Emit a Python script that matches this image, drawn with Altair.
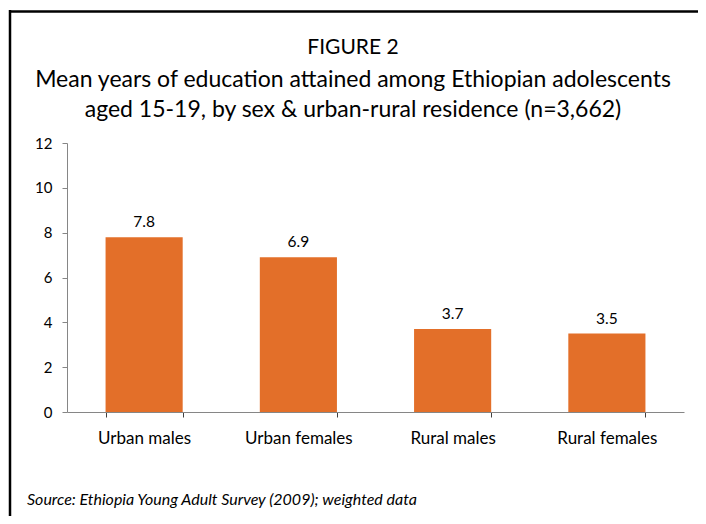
import altair as alt
import pandas as pd

categories = ["Urban males", "Urban females", "Rural males", "Rural females"]
values = [7.8, 6.9, 3.7, 3.5]
value_labels = ["7.8", "6.9", "3.7", "3.5"]
y_ticks = [0, 2, 4, 6, 8, 10, 12]
title_lines = [
    "FIGURE 2",
    "Mean years of education attained among Ethiopian adolescents",
    "aged 15-19, by sex & urban-rural residence (n=3,662)",
]
source_text = "Source:  Ethiopia Young Adult Survey (2009); weighted data"

FONT = "Lato"
BAR = "#E36F29"

df = pd.DataFrame({"cat": categories, "val": values, "lab": value_labels})

x_enc = alt.X(
    "cat:N",
    sort=categories,
    title=None,
    scale=alt.Scale(paddingInner=0.5, paddingOuter=0.25),
    axis=alt.Axis(
        labelAngle=0,
        tickBand="extent",
        domainColor="#868686",
        tickColor="#404040",
        tickSize=5,
        labelPadding=13,
        labelFontSize=17,
        labelColor="#000000",
        labelFont=FONT,
    ),
)
y_enc = alt.Y(
    "val:Q",
    title=None,
    scale=alt.Scale(domain=[0, 12], nice=False),
    axis=alt.Axis(
        values=y_ticks,
        grid=False,
        domainColor="#868686",
        tickColor="#868686",
        tickSize=5,
        labelPadding=10,
        labelFontSize=15,
        labelColor="#000000",
        labelFont=FONT,
    ),
)

bars = alt.Chart(df).mark_bar(color=BAR).encode(x=x_enc, y=y_enc)
texts = alt.Chart(df).mark_text(
    baseline="bottom", dy=-7, fontSize=15.5, font=FONT, color="#000000"
).encode(x=alt.X("cat:N", sort=categories), y="val:Q", text="lab:N")

title_offsets = [-89, -56, -26]
title_sizes = [21, 23, 23]
title_layers = [
    alt.Chart(pd.DataFrame({"t": [line]})).mark_text(
        align="center", baseline="alphabetic", fontSize=size, font=FONT, color="#000000"
    ).encode(x=alt.value(286), y=alt.value(off), text="t:N")
    for line, off, size in zip(title_lines, title_offsets, title_sizes)
]

src = alt.Chart(pd.DataFrame({"t": [source_text]})).mark_text(
    align="left", baseline="alphabetic", fontSize=16, fontStyle="italic",
    font=FONT, color="#000000"
).encode(x=alt.value(-40), y=alt.value(362), text="t:N")

border_top = alt.Chart(pd.DataFrame({"a": [0]})).mark_rule(
    color="#000000", strokeWidth=2.5
).encode(x=alt.value(-57), x2=alt.value(700), y=alt.value(-131.5))
border_left = alt.Chart(pd.DataFrame({"a": [0]})).mark_rule(
    color="#000000", strokeWidth=2.5
).encode(x=alt.value(-57), y=alt.value(-133), y2=alt.value(500))

chart = alt.layer(bars, texts, *title_layers, src, border_top, border_left).properties(
    width=617,
    height=269,
    autosize=alt.AutoSizeParams(type="none"),
    padding={"left": 59, "top": 135, "right": 14, "bottom": 104},
).configure_view(stroke=None)

chart.save("out.html", embed_options={"renderer": "svg", "actions": False})
